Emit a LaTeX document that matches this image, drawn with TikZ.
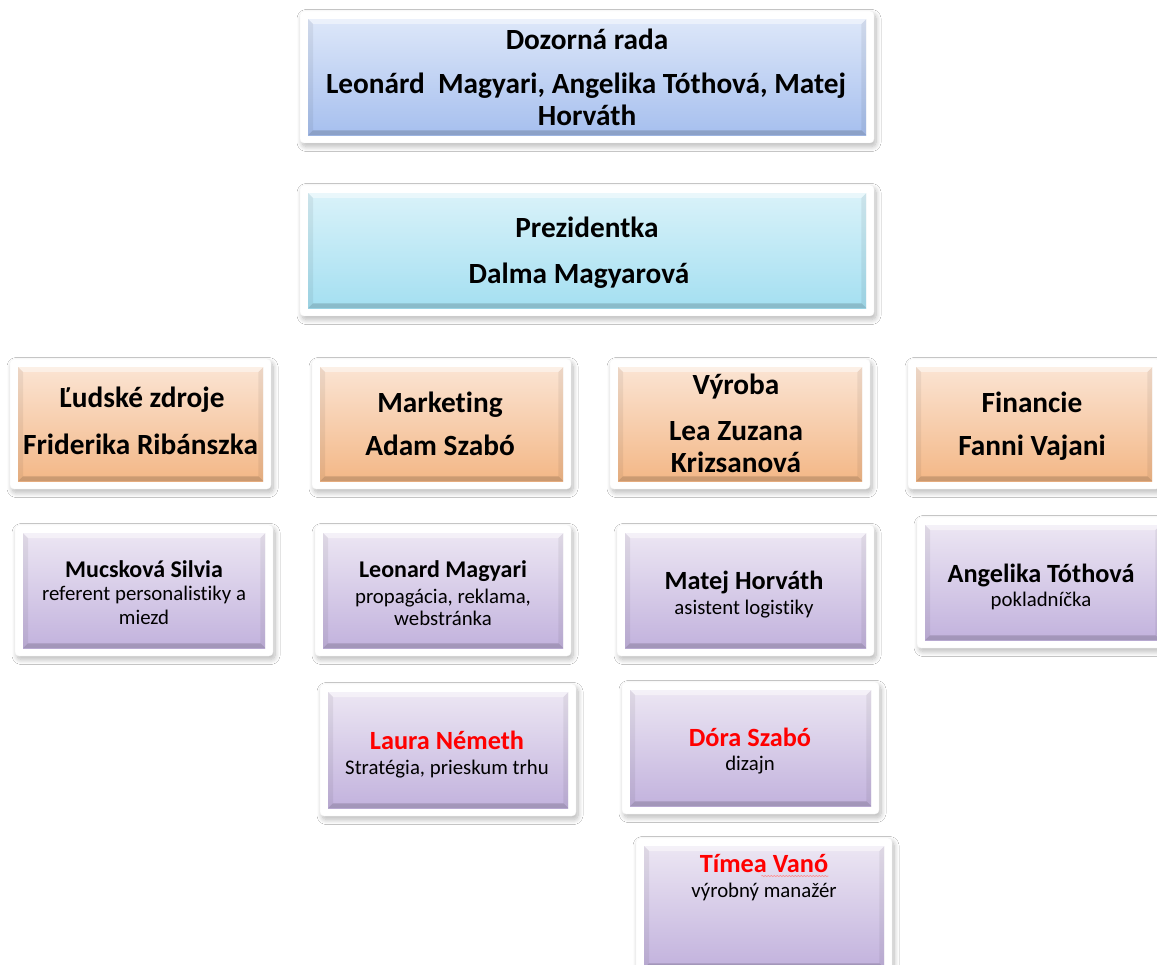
\documentclass[tikz,border=0pt]{standalone}
\usepackage{fontspec}
\setmainfont{Carlito}[Ligatures={NoCommon}]
\usetikzlibrary{shadows.blur,decorations.pathmorphing}
\definecolor{blueT}{HTML}{DDE7F9}
\definecolor{blueB}{HTML}{A6BFEE}
\definecolor{cyanT}{HTML}{D9F2F9}
\definecolor{cyanB}{HTML}{A4DFF1}
\definecolor{oraT}{HTML}{FBE4D3}
\definecolor{oraB}{HTML}{F3B786}
\definecolor{purT}{HTML}{ECE6F3}
\definecolor{purB}{HTML}{C2B2DD}
\definecolor{redtxt}{HTML}{FF0000}
\tikzset{
  frame/.style={fill=white, draw=black!4, line width=0.4pt, rounded corners=4pt,
    blur shadow={shadow xshift=2pt, shadow yshift=-3.5pt, shadow blur radius=5pt,
      shadow blur steps=10, shadow opacity=28}},
  inbox/.style={inner sep=0pt, draw=none, anchor=north west},
  blueS/.style={top color=blueT, bottom color=blueB},
  cyanS/.style={top color=cyanT, bottom color=cyanB},
  oraS/.style={top color=oraT, bottom color=oraB},
  purS/.style={top color=purT, bottom color=purB},
  big/.style={font=\fontsize{29.3}{34}\selectfont\bfseries, anchor=base, inner sep=0pt},
  mid/.style={font=\fontsize{26.3}{30}\selectfont\bfseries, anchor=base, inner sep=0pt},
  mids/.style={font=\fontsize{24}{28}\selectfont\bfseries, anchor=base, inner sep=0pt},
  sub/.style={font=\fontsize{20.8}{24}\selectfont, anchor=base, inner sep=0pt},
  redname/.style={text=redtxt},
  bevtop/.style={fill=white, opacity=0.45},
  bevbot/.style={fill=black, opacity=0.16},
  bevside/.style={fill=black, opacity=0.06},
  spell/.style={draw=red!45, line width=0.6pt, decorate,
    decoration={snake, amplitude=0.6pt, segment length=3pt}},
}
\newcommand\orgbox[6]{%
  \path[frame] ({#2-8},{#3-8}) rectangle ({#4+8},{#5+8});
  \node[inbox,#6,minimum width={#4-#2}, minimum height={#5-#3}] (#1) at (#2,#3) {};
  \fill[bevtop] (#1.north west) -- (#1.north east) -- ([shift={(-5,5)}]#1.north east) -- ([shift={(5,5)}]#1.north west) -- cycle;
  \fill[bevbot] (#1.south west) -- (#1.south east) -- ([shift={(-5,-5)}]#1.south east) -- ([shift={(5,-5)}]#1.south west) -- cycle;
  \fill[bevside] (#1.north west) -- (#1.south west) -- ([shift={(5,-5)}]#1.south west) -- ([shift={(5,5)}]#1.north west) -- cycle;
  \fill[bevside] (#1.north east) -- (#1.south east) -- ([shift={(-5,-5)}]#1.south east) -- ([shift={(-5,5)}]#1.north east) -- cycle;
}
\begin{document}
\begin{tikzpicture}[x=1pt,y=-1pt]
\useasboundingbox (0,0) rectangle (1157,965);
\fill[white] (0,0) rectangle (1157,965);
\clip (0,0) rectangle (1157,965);

% boxes
\orgbox{dozor}{308}{19}{866}{135}{blueS}
\orgbox{prez}{308}{193}{866}{308}{cyanS}
\orgbox{hr}{18}{367}{263}{481}{oraS}
\orgbox{mkt}{320}{367}{563}{481}{oraS}
\orgbox{vyr}{618}{367}{862}{481}{oraS}
\orgbox{fin}{916}{367}{1152}{481}{oraS}
\orgbox{mucs}{23}{533}{265}{648}{purS}
\orgbox{leon}{323}{533}{563}{648}{purS}
\orgbox{matej}{625}{533}{866}{648}{purS}
\orgbox{angel}{925}{525}{1160}{640}{purS}
\orgbox{laura}{328}{692}{568}{808}{purS}
\orgbox{dora}{630}{690}{871}{806}{purS}
\orgbox{timea}{644}{846}{884}{968}{purS}

% texts
\node[big] (dozor-a) at (587,50) {Dozorná rada};
\node[big] (dozor-b) at (586,94) {Leonárd\ \ Magyari, Angelika Tóthová, Matej};
\node[big] (dozor-c) at (587,126) {Horváth};
\node[big] (prez-a) at (587,238) {Prezidentka};
\node[big] (prez-b) at (579,284) {Dalma Magyarová};

\node[big] (hr-a) at (142,408) {Ľudské zdroje};
\node[big] (hr-b) at (140.5,455) {Friderika Ribánszka};
\node[big] (mkt-a) at (440,413) {Marketing};
\node[big] (mkt-b) at (440,456) {Adam Szabó};
\node[big] (vyr-a) at (736,395) {Výroba};
\node[big] (vyr-b) at (736,441) {Lea Zuzana};
\node[big] (vyr-c) at (736,472) {Krizsanová};
\node[big] (fin-a) at (1032,413) {Financie};
\node[big] (fin-b) at (1032,456) {Fanni Vajani};

\node[mids] (mucs-a) at (144,577) {Mucsková Silvia};
\node[sub] (mucs-b) at (144,600) {referent personalistiky a};
\node[sub] (mucs-c) at (144,624) {miezd};
\node[mids] (leon-a) at (443,577) {Leonard Magyari};
\node[sub] (leon-b) at (443,603) {propagácia, reklama,};
\node[sub] (leon-c) at (443,625) {webstránka};
\node[mid] (matej-a) at (744,589) {Matej Horváth};
\node[sub] (matej-b) at (744,614) {asistent logistiky};
\node[mid] (angel-a) at (1041,582) {Angelika Tóthová};
\node[sub] (angel-b) at (1041,606) {pokladníčka};
\node[mid,redname] (laura-a) at (447,749) {Laura Németh};
\node[sub] (laura-b) at (447,774) {Stratégia, prieskum trhu};
\node[mid,redname] (dora-a) at (750,746) {Dóra Szabó};
\node[sub] (dora-b) at (750,770) {dizajn};
\node[mid,redname] (timea-a) at (764,872) {Tímea Vanó};
\node[sub] (timea-b) at (764,897) {výrobný manažér};
\draw[spell] ([xshift=-67pt,yshift=-4pt]timea-a.base east) -- ([yshift=-4pt]timea-a.base east);
\end{tikzpicture}
\end{document}
